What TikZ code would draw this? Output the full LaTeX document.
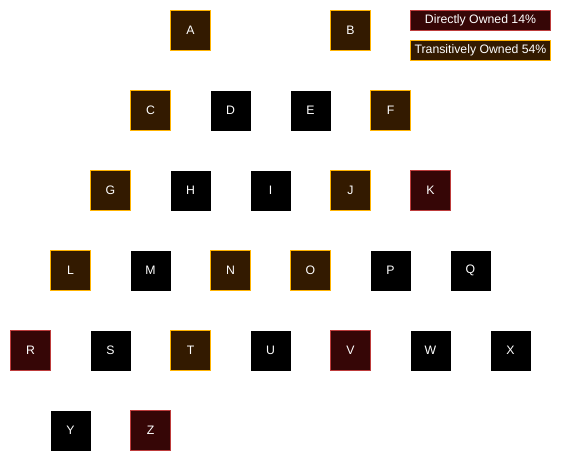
\documentclass[tikz,border=0pt]{standalone}
\usepackage{fontspec}
\setmainfont{Liberation Sans}
\definecolor{transfill}{HTML}{331A00}
\definecolor{transdraw}{HTML}{FFB300}
\definecolor{dirfill}{HTML}{360606}
\definecolor{dirdraw}{HTML}{BE3C3C}
\begin{document}
\begin{tikzpicture}[x=0.75pt,y=-0.75pt,
  base/.style={minimum width=40*0.75pt,minimum height=40*0.75pt,inner sep=0pt,text=white,font=\fontsize{9.2}{10}\selectfont,line width=0.75pt},
  plain/.style={base,fill=black},
  trans/.style={base,fill=transfill,draw=transdraw},
  direct/.style={base,fill=dirfill,draw=dirdraw},
  legd/.style={minimum width=140*0.75pt,minimum height=20*0.75pt,inner sep=0pt,text=white,font=\fontsize{9.2}{10}\selectfont,line width=0.75pt}]
\useasboundingbox[fill=white] (0,0) rectangle (561,461);
\begin{scope}[shift={(0.5,0.5)}]
\node[trans] (A) at (190,30) {A};
\node[trans] (B) at (350,30) {B};
\node[trans] (C) at (150,110) {C};
\node[plain] (D) at (230,110) {D};
\node[plain] (E) at (310,110) {E};
\node[trans] (F) at (390,110) {F};
\node[trans] (G) at (110,190) {G};
\node[plain] (H) at (190,190) {H};
\node[plain] (I) at (270,190) {I};
\node[trans] (J) at (350,190) {J};
\node[direct] (K) at (430,190) {K};
\node[trans] (L) at (70,270) {L};
\node[plain] (M) at (150,270) {M};
\node[trans] (N) at (230,270) {N};
\node[trans] (O) at (310,270) {O};
\node[plain] (P) at (390,270) {P};
\node[plain] (Q) at (470,270) {Q};
\node[direct] (R) at (30,350) {R};
\node[plain] (S) at (110,350) {S};
\node[trans] (T) at (190,350) {T};
\node[plain] (U) at (270,350) {U};
\node[direct] (V) at (350,350) {V};
\node[plain] (W) at (430,350) {W};
\node[plain] (X) at (510,350) {X};
\node[plain] (Y) at (70,430) {Y};
\node[direct] (Z) at (150,430) {Z};
\node[legd,fill=dirfill,draw=dirdraw] (LD) at (480,20) {Directly Owned 14\%};
\node[legd,fill=transfill,draw=transdraw] (LT) at (480,50) {Transitively Owned 54\%};
\end{scope}
\end{tikzpicture}
\end{document}
